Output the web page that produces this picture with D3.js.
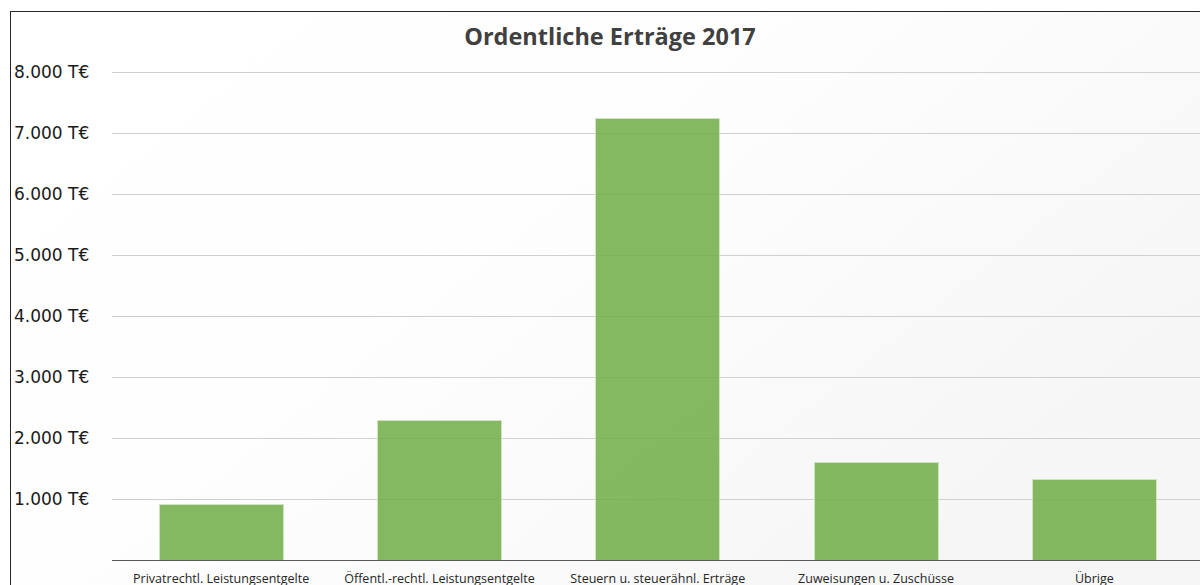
<!DOCTYPE html>
<html>
<head>
<meta charset="utf-8">
<script src="https://cdn.jsdelivr.net/npm/d3@7"></script>
<style>
  html, body { margin: 0; padding: 0; background: #ffffff; overflow: hidden; }
  svg { display: block; }
</style>
</head>
<body>
<svg id="chart" width="1200" height="585"></svg>
<script>
const title = "Ordentliche Erträge 2017";
const categories = [
  "Privatrechtl. Leistungsentgelte",
  "Öffentl.-rechtl. Leistungsentgelte",
  "Steuern u. steuerähnl. Erträge",
  "Zuweisungen u. Zuschüsse",
  "Übrige"
];
const values = [905, 2280, 7240, 1595, 1325];
const tickValues = [1000, 2000, 3000, 4000, 5000, 6000, 7000, 8000];
const tickLabels = ["1.000 T€", "2.000 T€", "3.000 T€", "4.000 T€", "5.000 T€", "6.000 T€", "7.000 T€", "8.000 T€"];

const W = 1200, H = 585;
const svg = d3.select("#chart");

// background gradient (subtle)
const defs = svg.append("defs");
const grad = defs.append("linearGradient").attr("id", "bg")
  .attr("x1", "0").attr("y1", "0").attr("x2", "1").attr("y2", "0.6");
grad.append("stop").attr("offset", "0").attr("stop-color", "#ffffff");
grad.append("stop").attr("offset", "0.45").attr("stop-color", "#fefefe");
grad.append("stop").attr("offset", "1").attr("stop-color", "#f6f6f6");

svg.append("rect").attr("x", 10).attr("y", 11).attr("width", W - 10).attr("height", H - 11)
  .attr("fill", "url(#bg)");

// frame
svg.append("line").attr("x1", 10.5).attr("x2", 10.5).attr("y1", 11).attr("y2", H)
  .attr("stroke", "#262626").attr("stroke-width", 1);
svg.append("line").attr("x1", 10).attr("x2", W).attr("y1", 11.5).attr("y2", 11.5)
  .attr("stroke", "#262626").attr("stroke-width", 1);

const x = d3.scaleBand().domain(categories).range([112, 1203.5])
  .paddingInner(0.432).paddingOuter(0.216);
const y = d3.scaleLinear().domain([0, 8000]).range([560, 72]);

// gridlines
const yAxis = d3.axisLeft(y).tickValues(tickValues)
  .tickFormat((d, i) => tickLabels[i]).tickSize(-(W - 112)).tickSizeOuter(0);
const gy = svg.append("g").attr("transform", "translate(112,0)").call(yAxis);
gy.select(".domain").remove();
gy.selectAll(".tick line").attr("stroke", "#d0d0d0").attr("stroke-width", 1)
  .attr("shape-rendering", "crispEdges");
gy.selectAll(".tick text")
  .attr("x", -98).attr("text-anchor", "start")
  .attr("font-family", "DejaVu Sans, sans-serif").attr("font-size", "17px")
  .attr("fill", "#1a1a1a");

// bars
svg.append("g").selectAll("rect").data(values).join("rect")
  .attr("x", (d, i) => x(categories[i]))
  .attr("y", d => y(d))
  .attr("width", x.bandwidth())
  .attr("height", d => y(0) - y(d))
  .attr("fill", "#70AD47").attr("fill-opacity", 0.86)
  .attr("stroke", "#cfe5c0").attr("stroke-width", 1)
  .attr("shape-rendering", "crispEdges");

// baseline + category labels
const xAxis = d3.axisBottom(x).tickSize(0).tickSizeOuter(0);
const gx = svg.append("g").attr("transform", "translate(0,560)").call(xAxis);
gx.select(".domain").attr("d", `M112,0.5H${W}`).attr("stroke", "#595959").attr("stroke-width", 1);
gx.selectAll(".tick text")
  .attr("y", 0).attr("dy", "22.5px")
  .attr("font-family", "Open Sans, sans-serif").attr("font-size", "12.5px")
  .attr("fill", "#262626");

// title
svg.append("text").attr("x", 610).attr("y", 45).attr("text-anchor", "middle")
  .attr("font-family", "Open Sans, sans-serif").attr("font-weight", "bold")
  .attr("font-size", "23.5px").attr("fill", "#404040").text(title);
</script>
</body>
</html>
